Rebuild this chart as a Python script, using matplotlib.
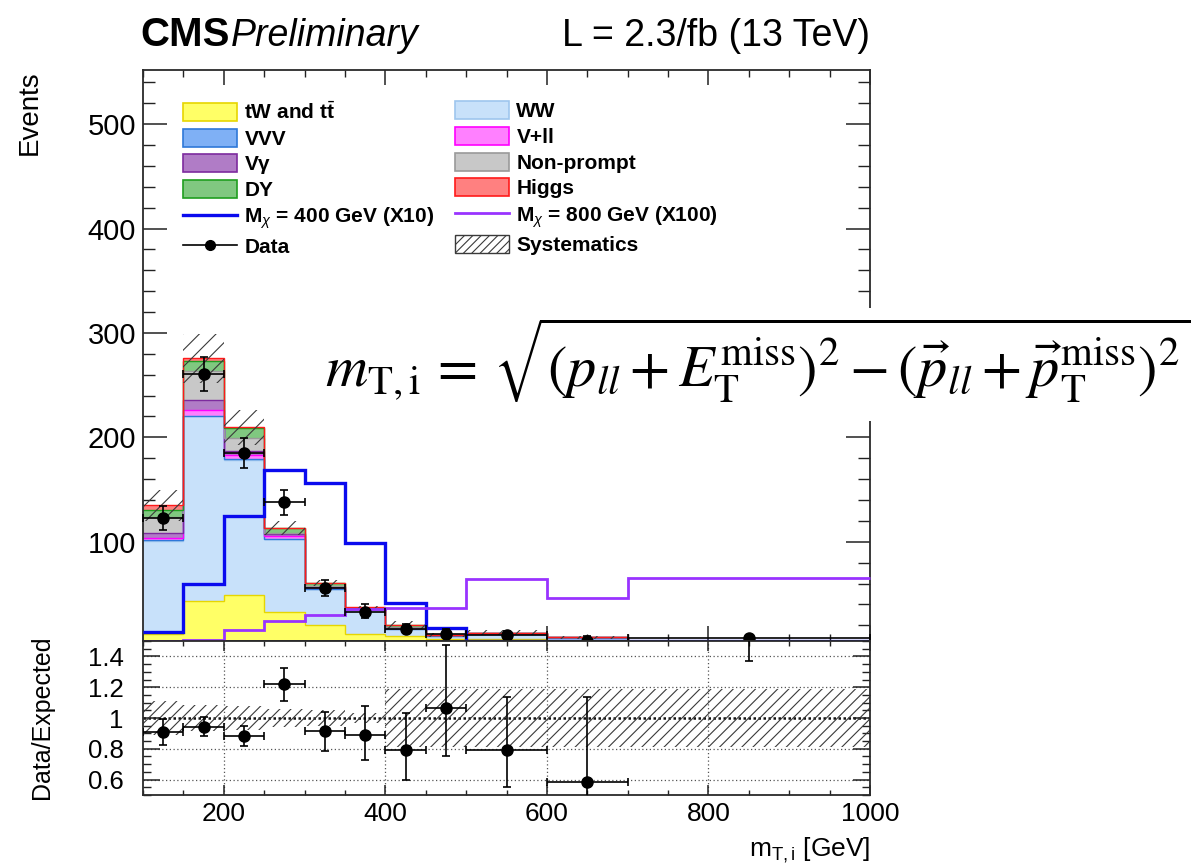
import numpy as np
import matplotlib
matplotlib.use("Agg")
import matplotlib.pyplot as plt
from matplotlib.patches import Patch, Rectangle
from matplotlib.lines import Line2D
from matplotlib.ticker import MultipleLocator, FuncFormatter

plt.rcParams['font.family'] = ['Liberation Sans', 'DejaVu Sans']
plt.rcParams['mathtext.fontset'] = 'custom'
plt.rcParams['mathtext.rm'] = 'Liberation Sans'
plt.rcParams['mathtext.it'] = 'Liberation Sans:italic'
plt.rcParams['mathtext.bf'] = 'Liberation Sans:bold'
plt.rcParams['hatch.linewidth'] = 0.8

# binning in m_T,i [GeV]
edges = np.array([100, 150, 200, 250, 300, 350, 400, 450, 500, 600, 700, 1000])

# expected backgrounds per bin (stacked bottom to top)
top_tw = [11.3, 43.3, 48.8, 33.1, 20.2, 12.0, 9.5, 6.5, 6.8, 2.5, 1.5]
ww = [89.7, 176.9, 129.8, 69.5, 34.3, 23.0, 7.0, 3.5, 5.2, 5.6, 2.5]
vvv = [0.3, 0.5, 0.5, 0.4, 0.3, 0.2, 0.1, 0.1, 0.1, 0.1, 0.05]
vll = [2.3, 5.2, 4.1, 2.6, 1.7, 0.5, 0.4, 0.3, 0.3, 0.2, 0.1]
vgamma = [4.8, 10.2, 3.8, 2.2, 0.5, 0.3, 0.3, 0.2, 0.3, 0.1, 0.05]
nonprompt = [15.4, 27.3, 12.3, 0.3, 0.5, 0.2, 0.5, 0.0, 0.1, 0.0, 0.0]
dy = [6.3, 9.6, 9.6, 4.7, 3.1, 0.8, 2.5, 0.3, 0.2, 0.1, 0.1]
higgs = [4.8, 2.9, 0.9, 0.3, 0.2, 0.1, 0.1, 0.0, 0.0, 0.0, 0.0]

# relative systematic uncertainty on the total expectation
syst_rel = [0.11, 0.085, 0.08, 0.06, 0.05, 0.03, 0.19, 0.19, 0.19, 0.19, 0.19]

# signal hypotheses (already scaled)
mx400 = [13.5, 60.0, 125.0, 168.3, 156.2, 98.5, 41.0, 17.0, 0.5, 0.3, 0.2]
mx800 = [4.0, 6.0, 16.0, 24.0, 29.8, 36.0, 36.5, 36.5, 64.8, 45.9, 65.8]

# observed data with asymmetric errors
data = [122.8, 260.6, 185.0, 137.9, 55.5, 33.0, 16.1, 11.6, 10.3, 5.0, 8.0]
data_lo = [11.3, 16.5, 14.0, 12.0, 7.8, 6.1, 3.9, 3.4, 3.1, 3.3, 2.1]
data_hi = [11.3, 16.5, 14.0, 12.0, 7.8, 7.0, 5.0, 4.5, 4.5, 4.8, 3.0]

processes = [
    (top_tw, '#ffff66', '#e6d600', r'tW and t$\bar{\mathbf{t}}$'),
    (ww, '#c8e1fa', '#9ec6ee', 'WW'),
    (vvv, '#7fb0f5', '#2f78d8', 'VVV'),
    (vll, '#ff80ff', '#ff00ff', 'V+ll'),
    (vgamma, '#b07cc6', '#7d2b9e', 'Vγ'),
    (nonprompt, '#c8c8c8', '#9a9a9a', 'Non-prompt'),
    (dy, '#80c880', '#1f9e1f', 'DY'),
    (higgs, '#ff8080', '#ff1a1a', 'Higgs'),
]

W, H = 1195, 864
fig = plt.figure(figsize=(W / 100, H / 100), dpi=100)
ax = fig.add_axes([143 / W, 1 - 641 / H, 727 / W, 571 / H])
rax = fig.add_axes([143 / W, 1 - 795 / H, 727 / W, 154 / H], sharex=ax)

centers = 0.5 * (edges[1:] + edges[:-1])
half = 0.5 * (edges[1:] - edges[:-1])

# stacked backgrounds
bottom = np.zeros(len(centers))
for vals, face, edge, _ in processes:
    top = bottom + np.array(vals)
    ax.stairs(top, edges, baseline=bottom, fill=True, facecolor=face,
              edgecolor='none', lw=0, zorder=2)
    ax.stairs(top, edges, baseline=None, color=edge, lw=1.0, zorder=2.1)
    bottom = top
total = bottom
syst = total * np.array(syst_rel)

ax.stairs(total + syst, edges, baseline=total - syst, fill=True,
          facecolor='none', edgecolor='#3a3a3a', hatch='//', lw=0, zorder=3)

ylo, yhi = 5.0, 2.0 * total.max()

# signals: values below the frame are drawn on the frame edge
ax.stairs(np.maximum(mx400, ylo), edges, baseline=None, color='#0a0aee',
          lw=2.4, zorder=4, clip_on=False)
ax.stairs(np.maximum(mx800, ylo), edges, baseline=None, color='#9933ff',
          lw=2.0, zorder=4, clip_on=False)

ax.errorbar(centers, data, xerr=half, yerr=[data_lo, data_hi], fmt='o',
            color='k', ms=8, lw=1.2, capsize=3, capthick=1.2, zorder=10,
            clip_on=False)

ax.set_xlim(edges[0], edges[-1])
ax.set_ylim(ylo, yhi)

# ratio panel
data = np.array(data)
ratio = data / total
ratio_lo = np.array(data_lo) / total
ratio_hi = np.array(data_hi) / total

for y in [0.6, 0.8, 1.2, 1.4]:
    rax.axhline(y, ls=(0, (1, 2)), color='#555555', lw=0.9, zorder=1)
rax.axhline(1.0, ls=(0, (1, 1)), color='#111111', lw=1.8, zorder=1)
for x in [200, 400, 600, 800]:
    rax.axvline(x, ls=(0, (1, 2)), color='#555555', lw=0.9, zorder=1)

rax.stairs(1 + np.array(syst_rel), edges, baseline=1 - np.array(syst_rel),
           fill=True, facecolor='none', edgecolor='#3a3a3a', hatch='///',
           lw=0, zorder=2)
rax.errorbar(centers, ratio, xerr=half, yerr=[ratio_lo, ratio_hi], fmt='o',
             color='k', ms=8, lw=1.2, capsize=3, capthick=1.2, zorder=5)
rax.set_ylim(0.5, 1.5)

# ticks and frames
for a in (ax, rax):
    for s in a.spines.values():
        s.set_linewidth(1.3)
        s.set_color('#2a2a2a')
    a.xaxis.set_major_locator(MultipleLocator(200))
    a.xaxis.set_minor_locator(MultipleLocator(50))
    a.tick_params(which='both', direction='in', top=True, right=True,
                  color='#222222')

ax.yaxis.set_major_locator(MultipleLocator(100))
ax.yaxis.set_minor_locator(MultipleLocator(20))
ax.tick_params(axis='y', which='major', length=17, width=1.1, labelsize=21, pad=5)
ax.tick_params(axis='y', which='minor', length=8.5, width=1.0)
ax.tick_params(axis='x', which='major', length=11, width=1.1)
ax.tick_params(axis='x', which='minor', length=5, width=1.0)
ax.tick_params(labelbottom=False)

rax.yaxis.set_major_locator(MultipleLocator(0.2))
rax.yaxis.set_minor_locator(MultipleLocator(0.05))
rax.yaxis.set_major_formatter(FuncFormatter(lambda v, p: f'{v:g}'))
rax.tick_params(axis='y', which='major', length=12, width=1.1, labelsize=18.5, pad=14)
rax.tick_params(axis='y', which='minor', length=6, width=1.0)
rax.tick_params(axis='x', which='major', length=7, width=1.1, labelsize=19, pad=5)
rax.tick_params(axis='x', which='minor', length=3.5, width=1.0)

# legend, two columns
def box(face, edge):
    return Patch(facecolor=face, edgecolor=edge, lw=1.2)

col1 = [box(processes[0][1], processes[0][2]), box(processes[2][1], processes[2][2]),
        box(processes[4][1], processes[4][2]), box(processes[6][1], processes[6][2]),
        Line2D([], [], color='#0a0aee', lw=2.4),
        Line2D([], [], color='k', lw=1.2, marker='o', ms=7)]
lab1 = [processes[0][3], processes[2][3], processes[4][3], processes[6][3],
        r'M$_{\chi}$ = 400 GeV (X10)', 'Data']
col2 = [box(processes[1][1], processes[1][2]), box(processes[3][1], processes[3][2]),
        box(processes[5][1], processes[5][2]), box(processes[7][1], processes[7][2]),
        Line2D([], [], color='#9933ff', lw=2.0),
        Patch(facecolor='white', edgecolor='#3a3a3a', hatch='////', lw=1.0)]
lab2 = [processes[1][3], processes[3][3], processes[5][3], processes[7][3],
        r'M$_{\chi}$ = 800 GeV (X100)', 'Systematics']

leg_kw = dict(frameon=False, prop={'weight': 'bold', 'size': 15},
              handlelength=2.6, handleheight=0.95, handletextpad=0.35,
              labelspacing=0.27, borderaxespad=0, borderpad=0, loc='upper left')
leg1 = ax.legend(col1, lab1, bbox_to_anchor=((183 - 143) / 727, (641 - 101) / 571), **leg_kw)
ax.add_artist(leg1)
ax.legend(col2, lab2, bbox_to_anchor=((455 - 143) / 727, (641 - 101) / 571), **leg_kw)

# header and axis titles
fig.text(140 / W, 1 - 46 / H, 'CMS', fontsize=29, fontweight='bold', va='baseline')
fig.text(231 / W, 1 - 46 / H, 'Preliminary', fontsize=27, fontstyle='italic', va='baseline')
fig.text(870 / W, 1 - 46 / H, 'L = 2.3/fb (13 TeV)', fontsize=27, ha='right', va='baseline')
fig.text(30 / W, 1 - 70 / H, 'Events', fontsize=20, rotation=90, ha='center', va='top')
fig.text(42 / W, 1 - 717 / H, 'Data/Expected', fontsize=18, rotation=90,
         ha='center', va='center')
fig.text(870 / W, 1 - 856 / H, r'm$_{\mathrm{T,i}}$ [GeV]', fontsize=19,
         ha='right', va='baseline')

# definition of the transverse mass, on a white panel over the plot
fig.patches.append(Rectangle((295 / W, 1 - 421 / H), (W - 295) / W, 113 / H,
                             transform=fig.transFigure, facecolor='white',
                             edgecolor='none', zorder=5))
fig.text(325 / W, 1 - 360 / H,
         r'$m_{\mathrm{T,i}} \,=\, \sqrt{(p_{ll} + E_{\mathrm{T}}^{\mathrm{miss}})^2'
         r' - (\vec{p}_{ll} + \vec{p}_{\mathrm{T}}^{\mathrm{miss}})^2}$',
         fontsize=42, math_fontfamily='stix', va='center', zorder=6)

fig.savefig('out.png', dpi=100)
